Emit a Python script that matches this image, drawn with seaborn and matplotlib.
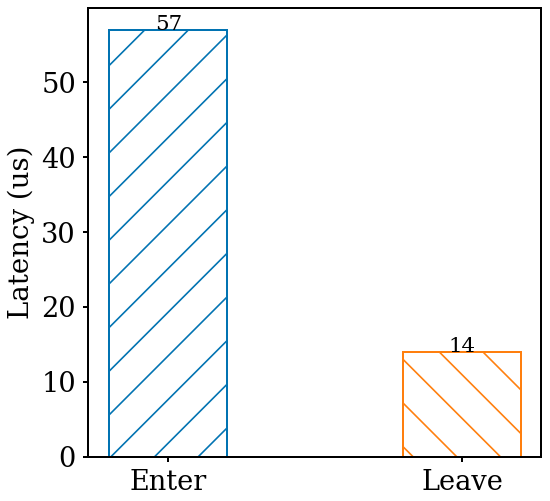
import pandas as pd
import matplotlib
matplotlib.use("Agg")
import matplotlib.pyplot as plt
import seaborn as sns

# Datos del gráfico
fases = ["Enter", "Leave"]
latencia = [57, 14]
colores = ["#0173b2", "#ff7f0e"]
tramas = ["//", "\\\\"]

df = pd.DataFrame({"fase": fases, "latencia": latencia})

DPI = 262
plt.rcParams.update({
    "font.family": "DejaVu Serif",
    "font.size": 7.5,
    "axes.linewidth": 0.55,
    "xtick.major.size": 1.3,
    "ytick.major.size": 1.3,
    "xtick.major.width": 0.55,
    "ytick.major.width": 0.55,
    "xtick.major.pad": 2.0,
    "ytick.major.pad": 2.0,
    "hatch.linewidth": 0.45,
})

fig = plt.figure(figsize=(550 / DPI, 501 / DPI), dpi=DPI)
ax = fig.add_axes([0.16, 0.0884, 0.8245, 0.895])

sns.barplot(data=df, x="fase", y="latencia", hue="fase", order=fases,
            palette=colores, width=0.4, fill=False, linewidth=0.55,
            legend=False, ax=ax)

for barra, trama, color in zip(ax.patches, tramas, colores):
    barra.set_hatch(trama)
    barra.set_edgecolor(color)

for i, v in enumerate(latencia):
    ax.text(i, v, str(v), ha="center", va="baseline", fontsize=5.9)

ax.set_xlim(-0.273, 1.27)
ax.set_ylim(0, 59.88)
ax.set_xlabel("")
ax.set_ylabel("Latency (us)", fontsize=7.6, labelpad=1.8)

fig.savefig("out.png", dpi=DPI)
